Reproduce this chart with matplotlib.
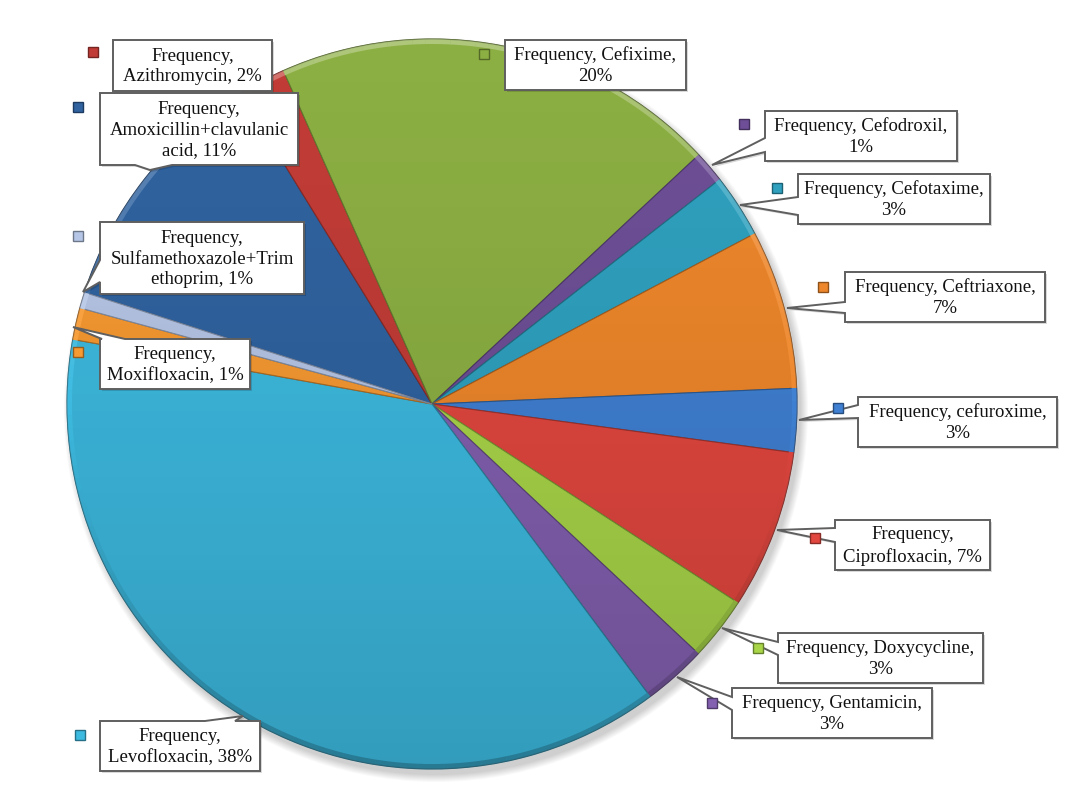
import numpy as np
import matplotlib
matplotlib.use("Agg")
import matplotlib.pyplot as plt
from matplotlib.patches import Wedge, Rectangle, Polygon, Circle
from matplotlib.colors import to_rgb

W, H = 1068, 797

drugs = ["Amoxicillin+clavulanic acid", "Azithromycin", "Cefixime", "Cefodroxil",
         "Cefotaxime", "Ceftriaxone", "cefuroxime", "Ciprofloxacin", "Doxycycline",
         "Gentamicin", "Levofloxacin", "Moxifloxacin", "Sulfamethoxazole+Trimethoprim"]
frequency = [16, 3, 28, 2, 4, 10, 4, 10, 4, 4, 54, 2, 1]
colors = ["#3063A0", "#C23C37", "#8CAF43", "#6E4F97", "#2FA1BF", "#EE872B", "#3F80D2",
          "#E2473F", "#A9D649", "#8360B0", "#3DBAE0", "#F79A32", "#B6C6E6"]
# how each data label is wrapped (as in the original Excel chart)
display_names = ["Amoxicillin+clavulanic\nacid", "Azithromycin", "Cefixime", "Cefodroxil",
                 "Cefotaxime", "Ceftriaxone", "cefuroxime", "Ciprofloxacin", "Doxycycline",
                 "Gentamicin", "Levofloxacin", "Moxifloxacin", "Sulfamethoxazole+Trim\nethoprim"]
wrap_after_name = [False, False, True, True, True, True, True, False, True, True, False, False, False]

# label layout in image pixels: box (x0, y0, x1, y1), key square, callout (side, a, b, tip)
boxes = [(100, 93, 298, 165), (113, 40, 272, 91), (505, 40, 686, 90), (765, 111, 957, 161),
         (798, 174, 990, 224), (845, 272, 1045, 322), (858, 397, 1057, 447), (835, 520, 990, 570),
         (778, 633, 983, 683), (732, 688, 932, 738), (100, 721, 260, 771), (100, 339, 250, 389),
         (100, 222, 304, 294)]
keys = [(78, 107), (93, 52), (484, 54), (744, 124), (777, 188), (823, 287), (838, 408),
        (815, 538), (758, 648), (712, 703), (80, 735), (78, 352), (78, 236)]
callouts = [("bottom", 135, 172, (150, 170)), None, None,
            ("left", 138, 152, (712, 165)), ("left", 197, 215, (740, 205)),
            ("left", 302, 313, (787, 308)), ("left", 405, 418, (799, 420)),
            ("left", 528, 542, (777, 530)), ("left", 642, 655, (722, 628)),
            ("left", 697, 710, (677, 677)), ("top", 205, 235, (243, 716)),
            ("top", 102, 125, (73, 327)), ("left", 260, 282, (83, 292))]

center = (432, H - 404)
radius = 365


def shade(c, f):
    r = np.array(to_rgb(c))
    if f > 0:
        return tuple(r + (1 - r) * f)
    return tuple(r * (1 + f))


def callout_shape(box, call):
    x0, y0, x1, y1 = box
    if call is None:
        pts = [(x0, y0), (x1, y0), (x1, y1), (x0, y1)]
    else:
        side, a, b, tip = call
        if side == "left":
            pts = [(x0, y0), (x1, y0), (x1, y1), (x0, y1), (x0, b), tip, (x0, a)]
        elif side == "top":
            pts = [(x0, y0), (a, y0), tip, (b, y0), (x1, y0), (x1, y1), (x0, y1)]
        else:
            pts = [(x0, y0), (x1, y0), (x1, y1), (b, y1), tip, (a, y1), (x0, y1)]
    return [(x, H - y) for x, y in pts]


fig = plt.figure(figsize=(W / 100, H / 100), dpi=100)
ax = fig.add_axes([0, 0, 1, 1])

# soft shadow under the pie
for k in range(8):
    ax.add_patch(Circle((center[0] + 4, center[1] - 6), radius + 7 - k,
                        color="#000000", alpha=0.025, lw=0, zorder=0))

total = sum(frequency)
wedges, _ = ax.pie(frequency, colors=colors, startangle=162.2, counterclock=False,
                   radius=radius, center=center, frame=True,
                   wedgeprops=dict(linewidth=0.8))
for w, c in zip(wedges, colors):
    w.set_edgecolor(shade(c, -0.3))
    w.set_zorder(1)

# top-lit shading: darker towards the bottom of the pie
grad = np.zeros((256, 2, 4))
grad[:, :, 3] = np.linspace(0.0, 0.16, 256)[:, None] ** 1.3 / 0.16 ** 0.3
img = ax.imshow(grad, extent=(center[0] - radius, center[0] + radius,
                              center[1] - radius, center[1] + radius),
                origin="upper", aspect="auto", interpolation="bilinear", zorder=1.5)
img.set_clip_path(Circle(center, radius, transform=ax.transData))

# bevel rim: light on the upper half, dark on the lower half
for w, c in zip(wedges, colors):
    edges = np.arange(w.theta1, w.theta2, 2.0)
    edges = np.append(edges, w.theta2)
    for t1, t2 in zip(edges[:-1], edges[1:]):
        s = np.sin(np.radians((t1 + t2) / 2))
        f = 0.3 * s if s > 0 else 0.35 * s
        ax.add_patch(Wedge(center, radius, t1, t2 + 0.05, width=5,
                           facecolor=shade(c, f), edgecolor="none", zorder=2))
ax.add_patch(Circle(center, radius, fill=False, edgecolor="#33333355", lw=0.8, zorder=2))

for i, name in enumerate(display_names):
    pct = f"{100 * frequency[i] / total:.0f}%"
    if wrap_after_name[i]:
        text = f"Frequency, {name},\n{pct}"
    else:
        text = f"Frequency,\n{name}, {pct}"
    shape = callout_shape(boxes[i], callouts[i])
    ax.add_patch(Polygon([(x + 2, y - 2) for x, y in shape], closed=True,
                         facecolor="#000000", alpha=0.15, lw=0, zorder=4))
    ax.add_patch(Polygon(shape, closed=True, facecolor="white",
                         edgecolor="#5f5f5f", lw=1.4, zorder=5))
    x0, y0, x1, y1 = boxes[i]
    ax.text((x0 + x1) / 2, H - (y0 + y1) / 2 - 1, text, ha="center", va="center",
            family="Liberation Serif", fontsize=13.5, color="#111111",
            linespacing=1.3, zorder=6)
    kx, ky = keys[i]
    ax.add_patch(Rectangle((kx - 5, H - ky - 5), 10, 10, facecolor=colors[i],
                           edgecolor=shade(colors[i], -0.4), lw=1, zorder=6))

ax.set_xlim(0, W)
ax.set_ylim(0, H)
ax.set_aspect("equal")
ax.axis("off")
fig.savefig("out.png", dpi=100, facecolor="white")
